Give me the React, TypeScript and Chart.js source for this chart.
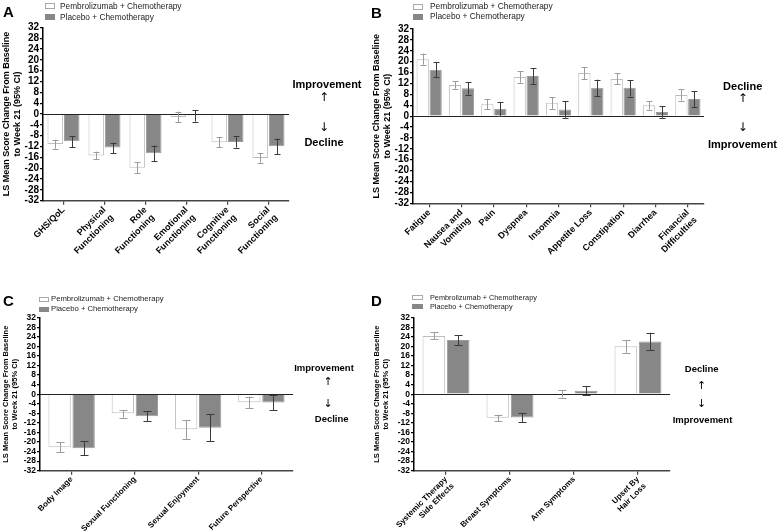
import React, { useEffect, useRef } from 'react';
import { Chart, registerables } from 'chart.js';
Chart.register(...registerables);

const FONT = '"Liberation Sans", Arial, Helvetica, sans-serif';
Chart.defaults.font.family = FONT;

const PEMBRO = 'Pembrolizumab + Chemotherapy';
const PLACEBO = 'Placebo + Chemotherapy';
const Y_TITLE = ['LS Mean Score Change From Baseline', 'to Week 21 (95% CI)'];

// Panel A – functioning scales
const catsA = ['GHS/QoL', ['Physical', 'Functioning'], ['Role', 'Functioning'], ['Emotional', 'Functioning'], ['Cognitive', 'Functioning'], ['Social', 'Functioning']];
const pembroA = [-11.1, -15.3, -19.8, -1.1, -10.4, -16.2];
const pembroLoA = [-12.8, -16.7, -21.8, -3.1, -12.2, -18.0];
const pembroHiA = [-9.5, -13.9, -17.7, 0.9, -8.6, -14.4];
const placeboA = [-10.1, -12.4, -14.5, -0.5, -10.3, -11.9];
const placeboLoA = [-12.2, -14.4, -17.4, -2.8, -12.4, -14.8];
const placeboHiA = [-8.1, -10.6, -11.7, 1.5, -8.1, -9.1];

// Panel B – symptom scales
const catsB = ['Fatigue', ['Nausea and', 'Vomiting'], 'Pain', 'Dyspnea', 'Insomnia', 'Appetite Loss', 'Constipation', 'Diarrhea', ['Financial', 'Difficulties']];
const pembroB = [20.9, 11.4, 4.4, 14.4, 4.9, 15.8, 13.6, 4.0, 7.8];
const pembroLoB = [18.9, 10.1, 2.6, 12.3, 2.7, 13.6, 11.7, 2.4, 5.7];
const pembroHiB = [23.0, 12.9, 6.2, 16.4, 6.9, 17.9, 15.7, 5.6, 9.9];
const placeboB = [17.0, 10.2, 2.7, 14.7, 2.4, 10.4, 10.4, 1.5, 6.3];
const placeboLoB = [14.4, 7.9, 0.1, 11.9, -0.6, 7.3, 7.2, -0.6, 3.3];
const placeboHiB = [19.9, 12.5, 5.1, 17.5, 5.5, 13.4, 13.3, 3.7, 9.1];

// Panel C – BR23 functioning
const catsC = ['Body Image', 'Sexual Functioning', 'Sexual Enjoyment', 'Future Perspective'];
const pembroC = [-22.2, -8.0, -14.7, -3.4];
const pembroLoC = [-24.3, -9.8, -18.7, -5.9];
const pembroHiC = [-20.1, -6.6, -10.8, -1.0];
const placeboC = [-22.6, -9.2, -14.0, -3.5];
const placeboLoC = [-25.6, -11.2, -19.7, -6.7];
const placeboHiC = [-19.7, -7.1, -8.4, -0.3];

// Panel D – BR23 symptoms
const catsD = [['Systemic Therapy', 'Side Effects'], 'Breast Symptoms', 'Arm Symptoms', ['Upset By', 'Hair Loss']];
const pembroD = [24.3, -9.9, 0.2, 20.1];
const pembroLoD = [22.9, -11.3, -1.4, 17.3];
const pembroHiD = [25.9, -8.6, 1.7, 22.6];
const placeboD = [22.7, -9.7, 1.4, 22.0];
const placeboLoD = [20.5, -11.6, -0.4, 18.4];
const placeboHiD = [24.7, -8.0, 3.3, 25.7];

const errorBarPlugin = {
  id: 'errorBars',
  afterDatasetsDraw(chart: any, _args: any, opts: any) {
    const { ctx, chartArea, scales } = chart;
    const y = scales.y;
    const y0 = Math.round(y.getPixelForValue(0)) + 0.5;
    ctx.save();
    ctx.strokeStyle = '#222';
    ctx.lineWidth = 1.2;
    ctx.beginPath();
    ctx.moveTo(chartArea.left, y0);
    ctx.lineTo(chartArea.right, y0);
    ctx.stroke();
    const cap = opts.cap || 6;
    chart.data.datasets.forEach((ds: any, i: number) => {
      const meta = chart.getDatasetMeta(i);
      ctx.strokeStyle = ds.errColor;
      ctx.lineWidth = 1;
      meta.data.forEach((el: any, j: number) => {
        const x = Math.round(el.x) + 0.5;
        const yl = y.getPixelForValue(ds.lo[j]);
        const yh = y.getPixelForValue(ds.hi[j]);
        ctx.beginPath();
        ctx.moveTo(x, yl);
        ctx.lineTo(x, yh);
        ctx.moveTo(x - cap / 2, Math.round(yl) + 0.5);
        ctx.lineTo(x + cap / 2, Math.round(yl) + 0.5);
        ctx.moveTo(x - cap / 2, Math.round(yh) + 0.5);
        ctx.lineTo(x + cap / 2, Math.round(yh) + 0.5);
        ctx.stroke();
      });
    });
    ctx.restore();
  },
};

type Spec = {
  left: number; top: number; w: number; h: number;
  labels: any[];
  pembro: number[]; pembroLo: number[]; pembroHi: number[];
  placebo: number[]; placeboLo: number[]; placeboHi: number[];
  padTop: number; padRight: number; yW: number; xH: number;
  cat: number; bar: number; cap: number;
  xFont: number; yFont: number; titleFont: number; titlePad: number;
};

const specs: Spec[] = [
  { left: 0, top: 0, w: 368, h: 266, labels: catsA, pembro: pembroA, pembroLo: pembroLoA, pembroHi: pembroHiA, placebo: placeboA, placeboLo: placeboLoA, placeboHi: placeboHiA, padTop: 27.3, padRight: 79, yW: 43, xH: 65.3, cat: 0.8, bar: 0.95, cap: 6, xFont: 9, yFont: 10, titleFont: 9, titlePad: 1.6 },
  { left: 368, top: 0, w: 412, h: 266, labels: catsB, pembro: pembroB, pembroLo: pembroLoB, pembroHi: pembroHiB, placebo: placeboB, placeboLo: placeboLoB, placeboHi: placeboHiB, padTop: 29, padRight: 76, yW: 45, xH: 62.7, cat: 0.8, bar: 0.95, cap: 6, xFont: 9, yFont: 10, titleFont: 9, titlePad: 3.6 },
  { left: 0, top: 266, w: 368, h: 266, labels: catsC, pembro: pembroC, pembroLo: pembroLoC, pembroHi: pembroHiC, placebo: placeboC, placeboLo: placeboLoC, placeboHi: placeboHiC, padTop: 51.7, padRight: 75, yW: 40, xH: 61.3, cat: 0.76, bar: 0.93, cap: 8, xFont: 8, yFont: 8.5, titleFont: 7.5, titlePad: 1 },
  { left: 368, top: 266, w: 412, h: 266, labels: catsD, pembro: pembroD, pembroLo: pembroLoD, pembroHi: pembroHiD, placebo: placeboD, placeboLo: placeboLoD, placeboHi: placeboHiD, padTop: 51.7, padRight: 110, yW: 46, xH: 61.3, cat: 0.76, bar: 0.93, cap: 8, xFont: 8, yFont: 8.5, titleFont: 7.5, titlePad: 4.5 },
];

function Panel({ s }: { s: Spec }) {
  const ref = useRef<HTMLCanvasElement>(null);
  useEffect(() => {
    const chart = new Chart(ref.current as HTMLCanvasElement, {
      type: 'bar',
      data: {
        labels: s.labels,
        datasets: [
          { label: PEMBRO, data: s.pembro, lo: s.pembroLo, hi: s.pembroHi, errColor: '#9c9c9c', backgroundColor: '#ffffff', borderColor: '#bdbdbd', borderWidth: 1, categoryPercentage: s.cat, barPercentage: s.bar } as any,
          { label: PLACEBO, data: s.placebo, lo: s.placeboLo, hi: s.placeboHi, errColor: '#3a3a3a', backgroundColor: '#878787', borderColor: '#9a9a9a', borderWidth: 1, categoryPercentage: s.cat, barPercentage: s.bar } as any,
        ],
      },
      options: {
        responsive: false,
        animation: false,
        layout: { padding: { top: s.padTop, left: 0, right: s.padRight, bottom: 0 } },
        plugins: { legend: { display: false }, tooltip: { enabled: false }, errorBars: { cap: s.cap } } as any,
        scales: {
          x: {
            grid: { display: true, drawOnChartArea: false, offset: false, tickLength: 4, color: '#444', lineWidth: 1.2 },
            border: { display: true, color: '#444', width: 1.5 },
            ticks: { autoSkip: false, maxRotation: 45, minRotation: 45, padding: 0, color: '#000', font: { size: s.xFont, weight: 'bold' } },
            afterFit: (sc: any) => { sc.height = s.xH; },
          },
          y: {
            min: -32, max: 32,
            grid: { display: true, drawOnChartArea: false, tickLength: 3, color: '#000', lineWidth: 1.2 },
            border: { display: true, color: '#000', width: 1.5 },
            ticks: { stepSize: 4, autoSkip: false, padding: 1, color: '#000', font: { size: s.yFont, weight: 'bold' } },
            title: { display: true, text: Y_TITLE, color: '#000', font: { size: s.titleFont, weight: 'bold', lineHeight: 1.2 }, padding: { top: s.titlePad, bottom: 0 } },
            afterFit: (sc: any) => { sc.width = s.yW; },
          },
        } as any,
      },
      plugins: [errorBarPlugin],
    } as any);
    return () => chart.destroy();
  }, []);
  return <canvas ref={ref} width={s.w} height={s.h} style={{ position: 'absolute', left: s.left, top: s.top, width: s.w, height: s.h }} />;
}

function T({ x, y, text, size, bold = true, family }: { x: number; y: number; text: string; size: number; bold?: boolean; family?: string }) {
  return (
    <div style={{ position: 'absolute', left: x, top: y, transform: 'translate(-50%,-50%)', fontSize: size, lineHeight: 1, fontWeight: bold ? 'bold' : 'normal', whiteSpace: 'nowrap', color: '#000', fontFamily: family || FONT }}>{text}</div>
  );
}

const ARROW_FONT = '"DejaVu Sans", sans-serif';

function Letter({ x, y, text }: { x: number; y: number; text: string }) {
  return <div style={{ position: 'absolute', left: x, top: y - 7.5, fontSize: 15, lineHeight: '15px', fontWeight: 'bold', color: '#000' }}>{text}</div>;
}

function Legend({ x, y1, y2, tx, size, bw, bh }: { x: number; y1: number; y2: number; tx: number; size: number; bw: number; bh: number }) {
  const item = (top: number, fill: string, border: string, text: string) => (
    <>
      <div style={{ position: 'absolute', left: x, top: top - bh / 2, width: bw, height: bh, boxSizing: 'border-box', background: fill, border: `1px solid ${border}` }} />
      <div style={{ position: 'absolute', left: tx, top: top - size / 2, fontSize: size, lineHeight: `${size}px`, whiteSpace: 'nowrap', color: '#222' }}>{text}</div>
    </>
  );
  return (
    <>
      {item(y1, '#ffffff', '#a8a8a8', PEMBRO)}
      {item(y2, '#878787', '#878787', PLACEBO)}
    </>
  );
}

export default function App() {
  return (
    <div style={{ position: 'absolute', left: 0, top: 0, width: 780, height: 532, background: '#fff', fontFamily: FONT, overflow: 'hidden' }}>
      {specs.map((s, i) => <Panel key={i} s={s} />)}
      <Letter x={3} y={11.5} text="A" />
      <Letter x={371} y={12} text="B" />
      <Letter x={3} y={300.5} text="C" />
      <Letter x={371} y={300.5} text="D" />

      <Legend x={45} y1={6.3} y2={16.8} tx={60} size={8.3} bw={10} bh={6} />
      <Legend x={413} y1={6.5} y2={16.5} tx={430} size={8.4} bw={10} bh={6} />
      <Legend x={39} y1={299} y2={309} tx={51} size={7.7} bw={10} bh={5} />
      <Legend x={412} y1={297.5} y2={306.8} tx={430} size={7.3} bw={10.5} bh={5} />

      <T x={327} y={84} text="Improvement" size={11} />
      <T x={324} y={97} text="↑" size={12} bold={false} family={ARROW_FONT} />
      <T x={324} y={127} text="↓" size={12} bold={false} family={ARROW_FONT} />
      <T x={324} y={142.3} text="Decline" size={11} />

      <T x={742.7} y={85.7} text="Decline" size={11} />
      <T x={742.7} y={98} text="↑" size={12} bold={false} family={ARROW_FONT} />
      <T x={742.7} y={127} text="↓" size={12} bold={false} family={ARROW_FONT} />
      <T x={742.5} y={144.3} text="Improvement" size={11} />

      <T x={324} y={367.7} text="Improvement" size={9.5} />
      <T x={328} y={381} text="↑" size={11} bold={false} family={ARROW_FONT} />
      <T x={328} y={403.3} text="↓" size={11} bold={false} family={ARROW_FONT} />
      <T x={331.7} y={419.3} text="Decline" size={9.5} />

      <T x={701.7} y={369} text="Decline" size={9.5} />
      <T x={701.7} y={385} text="↑" size={11} bold={false} family={ARROW_FONT} />
      <T x={701.7} y={403.3} text="↓" size={11} bold={false} family={ARROW_FONT} />
      <T x={702.5} y={420} text="Improvement" size={9.5} />
    </div>
  );
}
